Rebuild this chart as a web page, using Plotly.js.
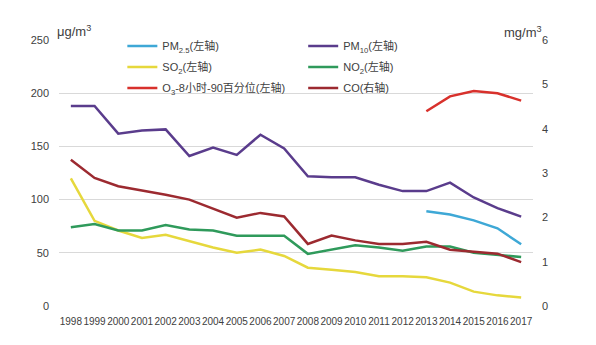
<!DOCTYPE html>
<html><head><meta charset="utf-8">
<script src="https://cdn.plot.ly/plotly-3.0.1.min.js"></script>
<style>html,body{margin:0;padding:0;background:#fff}#chart{width:596px;height:345px}</style>
</head><body><div id="chart"></div>
<script>
const years = ['1998','1999','2000','2001','2002','2003','2004','2005','2006','2007','2008','2009','2010','2011','2012','2013','2014','2015','2016','2017'];
const pm25 = [null,null,null,null,null,null,null,null,null,null,null,null,null,null,null,89,86,80.5,73,58];
const pm10 = [188,188,162,165,166,141,149,142,161,148,122,121,121,114,108,108,116,102,92,84];
const so2  = [120,80,71,64,67,61,55,50,53,47,36,34,32,28,28,27,22,13.5,10,8];
const no2  = [74,77,71,71,76,72,71,66,66,66,49,53,57,55,52,56,56,50,48,46];
const o3   = [null,null,null,null,null,null,null,null,null,null,null,null,null,null,null,183,197,202,200,193];
const co   = [3.3,2.89,2.7,2.61,2.51,2.4,2.19,1.99,2.1,2.02,1.4,1.59,1.48,1.4,1.4,1.45,1.27,1.23,1.18,0.99];

const names = ['PM<sub>2.5</sub>(左轴)','PM<sub>10</sub>(左轴)','SO<sub>2</sub>(左轴)','NO<sub>2</sub>(左轴)','O<sub>3</sub>-8小时-90百分位(左轴)','CO(右轴)'];
const colors = ['#3ea8d6','#5a3c8c','#e6d83c','#2f9a5b','#d8312c','#9c2a30'];
const series = [pm25,pm10,so2,no2,o3,co];
const axes = ['y','y','y','y','y','y2'];

const FONT = '"Liberation Sans", Arial, "Noto Sans CJK SC", sans-serif';
const traces = series.map((s,i)=>({
  x: years, y: s, name: names[i], type:'scatter', mode:'lines',
  yaxis: axes[i], line:{color:colors[i], width:2.5},
  legend: i===0 ? 'legend' : 'legend'+(i+1),
  connectgaps:false, hoverinfo:'skip'
}));

const plotL=58.6, plotR=533, plotT=40, plotB=306.5;
const W=plotR-plotL, H=plotB-plotT;
const px=(x)=>(x-plotL)/W, py=(y)=>(plotB-y)/H;
const legPos = [[122,46],[303,46],[122,67],[303,67],[122,88],[303,88]];
const layout = {
  width:596, height:345,
  margin:{l:plotL, r:596-plotR, t:plotT, b:345-plotB, pad:0},
  paper_bgcolor:'#fff', plot_bgcolor:'#fff',
  font:{family:FONT, size:11, color:'#404040'},
  showlegend:true,
  xaxis:{type:'category', range:[-0.5,19.5], showgrid:false, zeroline:false, showline:false,
    tickangle:0, tickfont:{size:10, color:'#404040'}, ticks:'', ticklabelstandoff:8, fixedrange:true},
  yaxis:{range:[0,250], dtick:50, showgrid:true, gridcolor:'#d9d9d9', gridwidth:1, zeroline:false,
    showline:false, ticks:'', ticklabelstandoff:9, tickfont:{size:11, color:'#404040'}},
  yaxis2:{range:[0,6], dtick:1, overlaying:'y', side:'right', showgrid:false, zeroline:false,
    showline:false, ticks:'', ticklabelstandoff:8, tickfont:{size:11, color:'#404040'}},
  annotations:[
    {text:'μg/m<sup>3</sup>', xref:'paper', yref:'paper', x:px(55), y:py(31), xanchor:'left', yanchor:'middle',
     showarrow:false, font:{size:13, color:'#404040'}},
    {text:'mg/m<sup>3</sup>', xref:'paper', yref:'paper', x:px(544), y:py(32), xanchor:'right', yanchor:'middle',
     showarrow:false, font:{size:13, color:'#404040'}}
  ]
};
legPos.forEach((p,i)=>{
  const key = i===0 ? 'legend' : 'legend'+(i+1);
  layout[key] = {x:px(p[0]), y:py(p[1]), xanchor:'left', yanchor:'middle', bgcolor:'rgba(0,0,0,0)',
    borderwidth:0, font:{size:11, color:'#404040', family:FONT}, itemwidth:30, orientation:'v'};
});
Plotly.newPlot('chart', traces, layout, {displayModeBar:false, staticPlot:true});
</script></body></html>
